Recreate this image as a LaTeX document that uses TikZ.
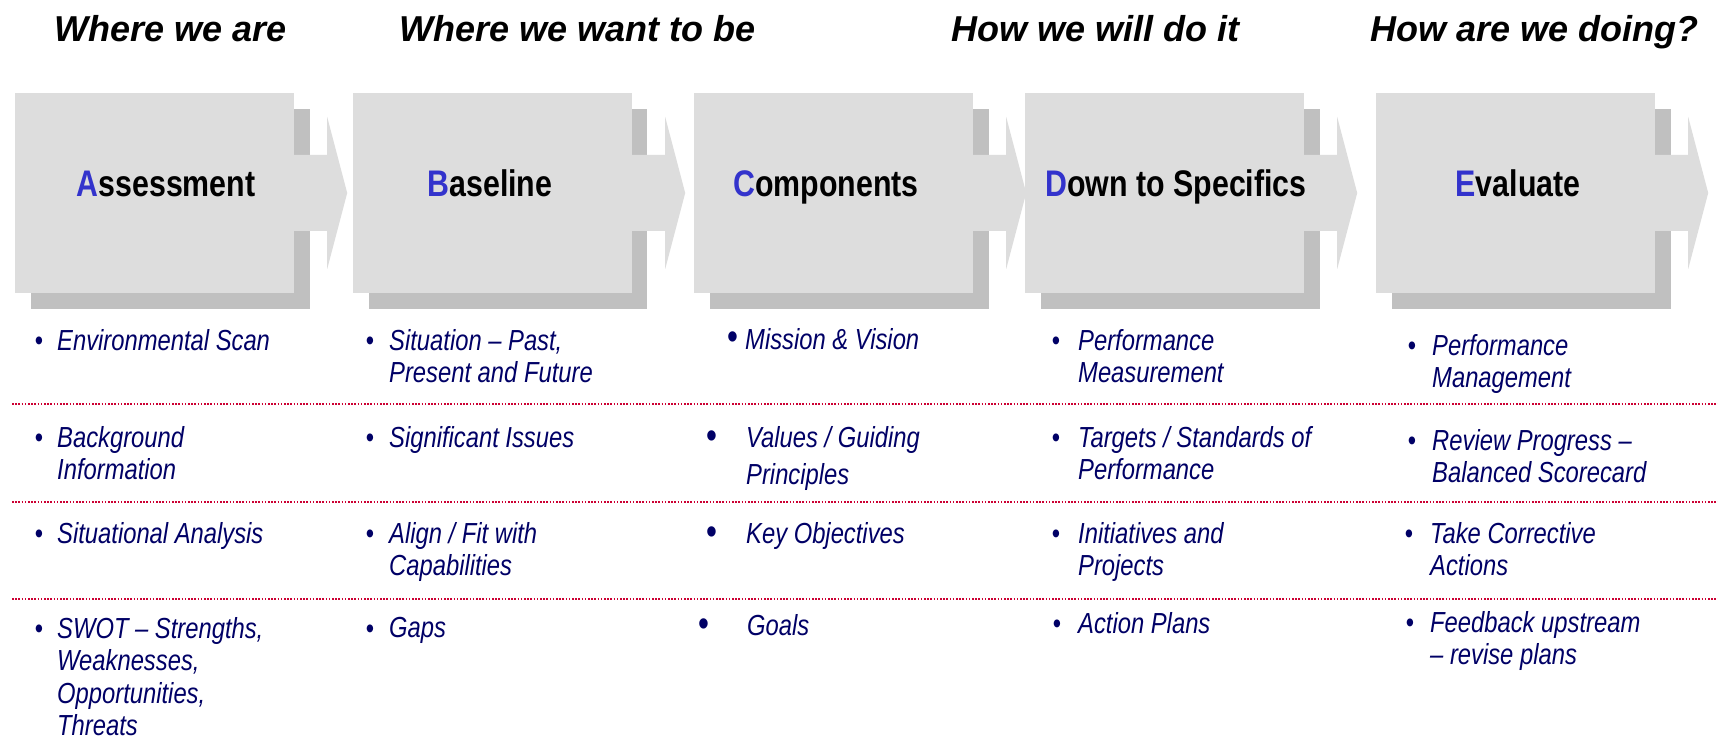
\documentclass[tikz,border=0pt]{standalone}
\usepackage{fontspec}
\setmainfont{Liberation Sans}
\newfontfamily\narrowfont[FakeStretch=0.82]{Liberation Sans}

\definecolor{boxgray}{HTML}{DDDDDD}
\definecolor{shadowgray}{HTML}{C0C0C0}
\definecolor{initialblue}{HTML}{3333CC}
\definecolor{itemnavy}{HTML}{000066}
\definecolor{rulered}{HTML}{CC0033}
\newcommand{\initial}[1]{\textcolor{initialblue}{#1}}

\begin{document}
\begin{tikzpicture}[x=1pt, y=-1pt,
  stage/.style={fill=boxgray, minimum width=279, minimum height=200, inner sep=0},
  boxshadow/.style={fill=shadowgray},
  heading/.style={anchor=base west, font=\fontsize{36}{40}\selectfont\bfseries\itshape},
  stagetitle/.style={anchor=base, font=\narrowfont\fontsize{37}{40}\selectfont\bfseries},
  % items are placed by the baseline of their first line
  item/.style={anchor=north west, yshift=21pt, align=left, inner sep=0, text=itemnavy,
    font=\narrowfont\fontsize{29}{32.5}\selectfont\itshape},
  itemdot/.style={anchor=base, inner sep=0, text=itemnavy,
    font=\narrowfont\fontsize{29}{32.5}\selectfont},
  bigdot/.style={itemdot, font=\narrowfont\fontsize{38}{40}\selectfont},
  rule/.style={rulered, line width=1.6, dash pattern=on 1.6pt off 1.6pt}]

  \useasboundingbox[fill=white] (0,0) rectangle (1718,743);

  % questions along the top
  \node[heading] (q1) at (51,42) {Where we are};
  \node[heading] (q2) at (396,42) {Where we want to be};
  \node[heading] (q3) at (948,42) {How we will do it};
  \node[heading] (q4) at (1367,42) {How are we doing?};

  % shadows first, then the stages and their arrows on top
  \fill[boxshadow] (31,109) rectangle (310,309);
  \fill[boxshadow] (369,109) rectangle (647,309);
  \fill[boxshadow] (710,109) rectangle (989,309);
  \fill[boxshadow] (1041,109) rectangle (1320,309);
  \fill[boxshadow] (1392,109) rectangle (1671,309);

  \node[stage] (A) at (154.5,193) {};
  \node[stage] (B) at (492.5,193) {};
  \node[stage] (C) at (833.5,193) {};
  \node[stage] (D) at (1164.5,193) {};
  \node[stage] (E) at (1515.5,193) {};

  \fill[boxgray] (A.east) ++(0,-38) -- ++(33,0) -- ++(0,-38) -- ++(20,76)
    -- ++(-20,76) -- ++(0,-38) -- ++(-33,0) -- cycle;
  \fill[boxgray] (B.east) ++(0,-38) -- ++(33,0) -- ++(0,-38) -- ++(20,76)
    -- ++(-20,76) -- ++(0,-38) -- ++(-33,0) -- cycle;
  \fill[boxgray] (C.east) ++(0,-38) -- ++(33,0) -- ++(0,-38) -- ++(20,76)
    -- ++(-20,76) -- ++(0,-38) -- ++(-33,0) -- cycle;
  \fill[boxgray] (D.east) ++(0,-38) -- ++(33,0) -- ++(0,-38) -- ++(20,76)
    -- ++(-20,76) -- ++(0,-38) -- ++(-33,0) -- cycle;
  \fill[boxgray] (E.east) ++(0,-38) -- ++(33,0) -- ++(0,-38) -- ++(20,76)
    -- ++(-20,76) -- ++(0,-38) -- ++(-33,0) -- cycle;

  \node[stagetitle] (At) at (166,197) {\initial{A}ssessment};
  \node[stagetitle] (Bt) at (490,197) {\initial{B}aseline};
  \node[stagetitle] (Ct) at (826,197) {\initial{C}omponents};
  \node[stagetitle] (Dt) at (1176,197) {\initial{D}own to Specifics};
  \node[stagetitle] (Et) at (1518,197) {\initial{E}valuate};

  % dotted separators between the rows
  \draw[rule] (12,404) -- (1718,404);
  \draw[rule] (12,502) -- (1718,502);
  \draw[rule] (12,599) -- (1718,599);

  % A
  \node[itemdot] (a1d) at (39,350) {•};
  \node[item] (a1) at (57,350) {Environmental Scan};
  \node[itemdot] (a2d) at (39,447) {•};
  \node[item] (a2) at (57,447) {Background\\Information};
  \node[itemdot] (a3d) at (39,543) {•};
  \node[item] (a3) at (57,543) {Situational Analysis};
  \node[itemdot] (a4d) at (39,638) {•};
  \node[item] (a4) at (57,638) {SWOT – Strengths,\\Weaknesses,\\Opportunities,\\Threats};

  % B
  \node[itemdot] (b1d) at (370,350) {•};
  \node[item] (b1) at (389,350) {Situation – Past,\\Present and Future};
  \node[itemdot] (b2d) at (370,447) {•};
  \node[item] (b2) at (389,447) {Significant Issues};
  \node[itemdot] (b3d) at (370,543) {•};
  \node[item] (b3) at (389,543) {Align / Fit with\\Capabilities};
  \node[itemdot] (b4d) at (370,638) {•};
  \node[item] (b4) at (389,638) {Gaps};

  % C
  \node[bigdot] (c1d) at (733,349) {•};
  \node[item] (c1) at (745,349) {Mission \& Vision};
  \node[bigdot] (c2d) at (712,448) {•};
  \node[item] (c2) at (746,447) {Values / Guiding\\[5pt]Principles};
  \node[bigdot] (c3d) at (712,544) {•};
  \node[item] (c3) at (746,543) {Key Objectives};
  \node[bigdot] (c4d) at (704,636) {•};
  \node[item] (c4) at (747,635) {Goals};

  % D
  \node[itemdot] (d1d) at (1056,350) {•};
  \node[item] (d1) at (1078,350) {Performance\\Measurement};
  \node[itemdot] (d2d) at (1056,447) {•};
  \node[item] (d2) at (1078,447) {Targets / Standards of\\Performance};
  \node[itemdot] (d3d) at (1056,543) {•};
  \node[item] (d3) at (1078,543) {Initiatives and\\Projects};
  \node[itemdot] (d4d) at (1057,633) {•};
  \node[item] (d4) at (1078,633) {Action Plans};

  % E
  \node[itemdot] (e1d) at (1412,355) {•};
  \node[item] (e1) at (1432,355) {Performance\\Management};
  \node[itemdot] (e2d) at (1412,450) {•};
  \node[item] (e2) at (1432,450) {Review Progress –\\Balanced Scorecard};
  \node[itemdot] (e3d) at (1409,543) {•};
  \node[item] (e3) at (1430,543) {Take Corrective\\Actions};
  \node[itemdot] (e4d) at (1410,632) {•};
  \node[item] (e4) at (1430,632) {Feedback upstream\\– revise plans};

\end{tikzpicture}
\end{document}
